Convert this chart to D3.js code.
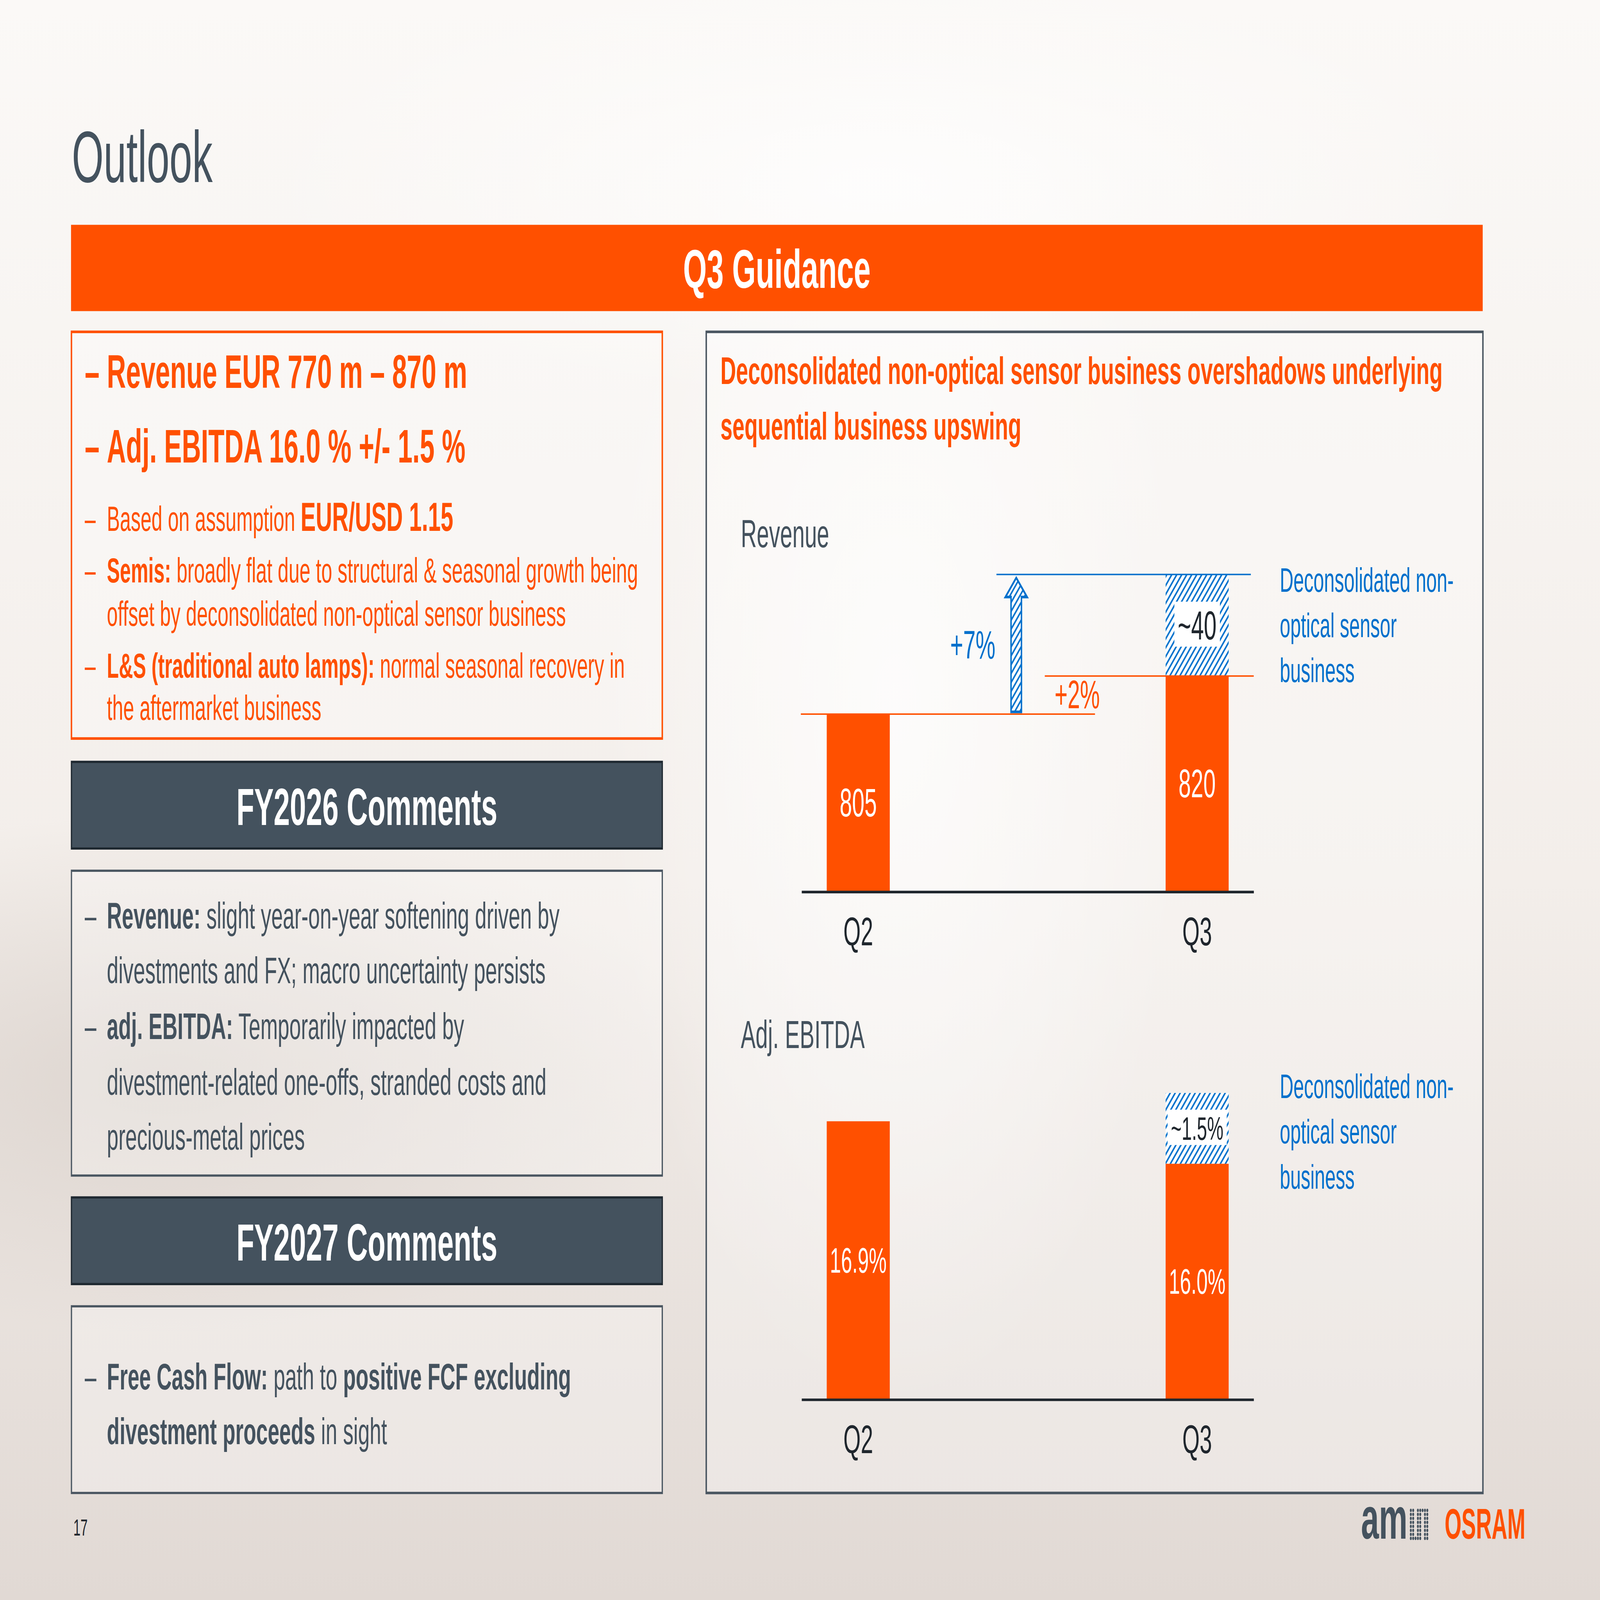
<!DOCTYPE html>
<html>
<head>
<meta charset="utf-8">
<script src="https://cdn.jsdelivr.net/npm/d3@7"></script>
<style>
  html, body { margin: 0; padding: 0; overflow: hidden; background: #f3eeea; }
  svg { display: block; width: 100vw; height: 100vh; font-family: "Liberation Sans", Arial, Helvetica, sans-serif; }
</style>
</head>
<body>
<script>

// chart values
const quarters = ['Q2', 'Q3'];
const revenue = [805, 820];
const revenueDecon = [0, 40];          // deconsolidated non-optical sensor business (hatched)
const revenueLabels = ['805', '820'];
const revenueDeconLabels = ['', '~40'];
const ebitda = [16.9, 16.0];
const ebitdaDecon = [0, 1.5];
const ebitdaLabels = ['16.9%', '16.0%'];
const ebitdaDeconLabels = ['', '~1.5%'];
const growthUnderlying = '+7%';
const growthReported = '+2%';

const ORANGE = '#ff5000', SLATE = '#44525e', BLUE = '#0070cc', INK = '#1f262d';

const W = 7680, H = 4320;

// the slide is drawn in 7680x4320 units and stretched to fill the window
const svg = d3.select('body').append('svg')
    .attr('viewBox', [0, 0, W, H])
    .attr('preserveAspectRatio', 'none');

const defs = svg.append('defs');

// background wash
const bg = defs.append('linearGradient').attr('id', 'bg').attr('x1', 0).attr('y1', 0).attr('x2', 0).attr('y2', 1);
bg.append('stop').attr('offset', 0).attr('stop-color', '#fbf9f7');
bg.append('stop').attr('offset', 0.55).attr('stop-color', '#f3eeea');
bg.append('stop').attr('offset', 1).attr('stop-color', '#e1d9d4');

const glow = defs.append('radialGradient').attr('id', 'glow').attr('cx', 0.5).attr('cy', 0.5).attr('r', 0.5);
glow.append('stop').attr('offset', 0).attr('stop-color', '#ffffff').attr('stop-opacity', 0.7);
glow.append('stop').attr('offset', 1).attr('stop-color', '#ffffff').attr('stop-opacity', 0);

const shade = defs.append('radialGradient').attr('id', 'shade').attr('cx', 0.5).attr('cy', 0.5).attr('r', 0.5);
shade.append('stop').attr('offset', 0).attr('stop-color', '#bfb3ab').attr('stop-opacity', 0.35);
shade.append('stop').attr('offset', 1).attr('stop-color', '#bfb3ab').attr('stop-opacity', 0);

// blue diagonal hatch
const hatch = defs.append('pattern').attr('id', 'hatch')
    .attr('patternUnits', 'userSpaceOnUse')
    .attr('width', 24).attr('height', 24);
hatch.append('rect').attr('width', 24).attr('height', 24).attr('fill', '#fff');
hatch.append('path')
    .attr('d', 'M-6,6 L6,-6 M0,24 L24,0 M18,30 L30,18')
    .attr('stroke', BLUE).attr('stroke-width', 6);

svg.append('rect').attr('width', W).attr('height', H).attr('fill', 'url(#bg)');
svg.append('ellipse').attr('cx', 800).attr('cy', 2900).attr('rx', 2600).attr('ry', 700).attr('fill', 'url(#shade)');
svg.append('ellipse').attr('cx', 4300).attr('cy', 1900).attr('rx', 1400).attr('ry', 1900).attr('fill', 'url(#glow)');
svg.append('ellipse').attr('cx', 4200).attr('cy', 500).attr('rx', 3000).attr('ry', 600).attr('fill', 'url(#glow)');

// helper: line of mixed regular / bold runs
function rich(parent, x, y, segs, size, color) {
    const t = parent.append('text')
        .attr('x', x).attr('y', y)
        .attr('font-size', size)
        .attr('fill', color)
        .style('white-space', 'pre');
    segs.forEach(s => {
        t.append('tspan')
            .attr('font-weight', s[1] ? 'bold' : 'normal')
            .attr('font-size', s[2] || size)
            .text(s[0]);
    });
    return t;
}

// title and page frame
svg.append('text').attr('x', 345).attr('y', 492)
    .attr('font-size', 196).attr('fill', SLATE).text('Outlook');

svg.append('rect').attr('x', 341).attr('y', 607).attr('width', 6776).attr('height', 233).attr('fill', ORANGE);
svg.append('text').attr('x', 3729).attr('y', 777).attr('text-anchor', 'middle')
    .attr('font-size', 146).attr('font-weight', 'bold').attr('fill', '#fff').text('Q3 Guidance');

// left column boxes
const BX = 343, BW = 2836;
const boxFill = 'rgba(255,255,255,0.3)';

svg.append('rect').attr('x', BX).attr('y', 896).attr('width', BW).attr('height', 1098)
    .attr('fill', boxFill).attr('stroke', ORANGE).attr('stroke-width', 7);

[[2057, 'FY2026 Comments'], [3233, 'FY2027 Comments']].forEach(([y, label]) => {
    svg.append('rect').attr('x', BX).attr('y', y).attr('width', BW).attr('height', 234)
        .attr('fill', SLATE).attr('stroke', '#1e2830').attr('stroke-width', 6);
    svg.append('text').attr('x', BX + BW / 2).attr('y', y + 170).attr('text-anchor', 'middle')
        .attr('font-size', 140).attr('font-weight', 'bold').attr('fill', '#fff').text(label);
});

svg.append('rect').attr('x', BX).attr('y', 2351).attr('width', BW).attr('height', 823)
    .attr('fill', boxFill).attr('stroke', '#4a5661').attr('stroke-width', 6);
svg.append('rect').attr('x', BX).attr('y', 3527).attr('width', BW).attr('height', 504)
    .attr('fill', boxFill).attr('stroke', '#4a5661').attr('stroke-width', 6);

// Q3 guidance text
const DASH_X = 407, TEXT_X = 513;
const guidanceBig = [
    [1047, [['Revenue EUR 770 m – 870 m', 1]]],
    [1249, [['Adj. EBITDA 16.0 % +/- 1.5 %', 1]]]
];
const guidanceSmall = [
    [1433, true, [['Based on assumption ', 0], ['EUR/USD 1.15', 1, 109]]],
    [1573, true, [['Semis:', 1], [' broadly flat due to structural & seasonal growth being', 0]]],
    [1690, false, [['offset by deconsolidated non-optical sensor business', 0]]],
    [1830, true, [['L&S (traditional auto lamps):', 1], [' normal seasonal recovery in', 0]]],
    [1944, false, [['the aftermarket business', 0]]]
];
guidanceBig.forEach(([y, segs]) => {
    svg.append('text').attr('x', DASH_X).attr('y', y).attr('font-size', 127)
        .attr('font-weight', 'bold').attr('fill', ORANGE).text('–');
    rich(svg, TEXT_X, y, segs, 127, ORANGE);
});
guidanceSmall.forEach(([y, dash, segs]) => {
    if (dash) svg.append('text').attr('x', DASH_X).attr('y', y).attr('font-size', 94)
        .attr('fill', ORANGE).text('–');
    rich(svg, TEXT_X, y, segs, 94, ORANGE);
});

// FY comments text
const fy26 = [
    [2507, true, [['Revenue:', 1], [' slight year-on-year softening driven by', 0]]],
    [2655, false, [['divestments and FX; macro uncertainty persists', 0]]],
    [2806, true, [['adj. EBITDA:', 1], [' Temporarily impacted by', 0]]],
    [2956, false, [['divestment-related one-offs, stranded costs and', 0]]],
    [3104, false, [['precious-metal prices', 0]]]
];
const fy27 = [
    [3752, true, [['Free Cash Flow:', 1], [' path to ', 0], ['positive FCF excluding', 1]]],
    [3899, false, [['divestment proceeds', 1], [' in sight', 0]]]
];
fy26.concat(fy27).forEach(([y, dash, segs]) => {
    if (dash) svg.append('text').attr('x', DASH_X).attr('y', y).attr('font-size', 100)
        .attr('fill', SLATE).text('–');
    rich(svg, TEXT_X, y, segs, 100, SLATE);
});

// right panel
svg.append('rect').attr('x', 3390).attr('y', 896).attr('width', 3728).attr('height', 3135)
    .attr('fill', boxFill).attr('stroke', '#4a5661').attr('stroke-width', 7);

svg.append('text').attr('x', 3458).attr('y', 1037).attr('font-size', 104).attr('font-weight', 'bold')
    .attr('fill', ORANGE).text('Deconsolidated non-optical sensor business overshadows underlying');
svg.append('text').attr('x', 3458).attr('y', 1187).attr('font-size', 104).attr('font-weight', 'bold')
    .attr('fill', ORANGE).text('sequential business upswing');

svg.append('text').attr('x', 3556).attr('y', 1478).attr('font-size', 106).attr('fill', SLATE).text('Revenue');
svg.append('text').attr('x', 3556).attr('y', 2830).attr('font-size', 106).attr('fill', SLATE).text('Adj. EBITDA');

const noteLines = ['Deconsolidated non-', 'optical sensor', 'business'];
[1598, 2965].forEach(y0 => {
    noteLines.forEach((l, i) => {
        svg.append('text').attr('x', 6143).attr('y', y0 + i * 122)
            .attr('font-size', 91).attr('fill', BLUE).text(l);
    });
});

// scales
const x = d3.scaleBand().domain(quarters).range([3848, 6018])
    .paddingInner(0.814).paddingOuter(0.074);
const bw = x.bandwidth();

const REV_BASE = 2408, EB_BASE = 3779;
const yRev = d3.scaleLinear().domain([735, 860]).range([REV_BASE, 1551]);
const yEb = d3.scaleLinear().domain([11, 17.5]).range([EB_BASE, 2951]);

function drawPanel(g, y, values, decon, labels, deconLabels, labelSize, deconSize, base) {
    const rows = quarters.map((q, i) => ({ q, v: values[i], d: decon[i], label: labels[i], dl: deconLabels[i] }));

    g.selectAll('rect.bar').data(rows).join('rect')
        .attr('class', 'bar')
        .attr('x', d => x(d.q)).attr('width', bw)
        .attr('y', d => y(d.v)).attr('height', d => y.range()[0] - y(d.v))
        .attr('fill', ORANGE);

    g.selectAll('text.val').data(rows).join('text')
        .attr('class', 'val')
        .attr('x', d => x(d.q) + bw / 2)
        .attr('y', d => (y(d.v) + y.range()[0]) / 2 + labelSize * 0.34)
        .attr('text-anchor', 'middle').attr('font-size', labelSize).attr('fill', '#fff')
        .text(d => d.label);

    const dec = rows.filter(d => d.d > 0);
    g.selectAll('rect.decon').data(dec).join('rect')
        .attr('class', 'decon')
        .attr('x', d => x(d.q)).attr('width', bw)
        .attr('y', d => y(d.v + d.d)).attr('height', d => y(d.v) - y(d.v + d.d))
        .attr('fill', 'url(#hatch)');

    dec.forEach(d => {
        const cy = (y(d.v) + y(d.v + d.d)) / 2;
        const t = g.append('text')
            .attr('x', x(d.q) + bw / 2).attr('y', cy + deconSize * 0.35)
            .attr('text-anchor', 'middle').attr('font-size', deconSize).attr('fill', INK)
            .text(d.dl);
        const bb = t.node().getBBox();
        g.insert('rect', () => t.node())
            .attr('x', bb.x - 16).attr('y', bb.y - 2)
            .attr('width', bb.width + 32).attr('height', bb.height - 2)
            .attr('fill', '#fff');
    });

    const axis = g.append('g')
        .attr('transform', `translate(0,${base})`)
        .call(d3.axisBottom(x).tickSize(0).tickSizeOuter(0).tickPadding(68));
    axis.select('.domain').attr('stroke', INK).attr('stroke-width', 7);
    axis.selectAll('text').attr('font-size', 107).attr('fill', INK)
        .attr('font-family', '"Liberation Sans", Arial, sans-serif');
}

const rev = svg.append('g');
drawPanel(rev, yRev, revenue, revenueDecon, revenueLabels, revenueDeconLabels, 107, 110, REV_BASE);

const eb = svg.append('g');
drawPanel(eb, yEb, ebitda, ebitdaDecon, ebitdaLabels, ebitdaDeconLabels, 96, 88, EB_BASE);

// revenue bridge annotations
const yQ2 = yRev(revenue[0]);
const yQ3 = yRev(revenue[1]);
const yTop = yRev(revenue[1] + revenueDecon[1]);

const refLines = [
    { x1: x.range()[0] - 4, x2: 5256, y: yQ2, c: ORANGE },
    { x1: 5015, x2: x.range()[1], y: yQ3, c: ORANGE },
    { x1: 4783, x2: 6004, y: yTop, c: BLUE }
];
rev.selectAll('line.ref').data(refLines).join('line')
    .attr('class', 'ref')
    .attr('x1', d => d.x1).attr('x2', d => d.x2)
    .attr('y1', d => d.y).attr('y2', d => d.y)
    .attr('stroke', d => d.c).attr('stroke-width', 4);

// hollow hatched arrow from Q2 level to underlying Q3 level
const ax = 4878, aBot = yQ2 - 6, aTip = yTop + 9;
const sh = 25, hh = 52, hl = 52;
rev.append('path')
    .attr('d', d3.line()([
        [ax - sh, aBot], [ax - sh, aTip + hl], [ax - hh, aTip + hl], [ax, aTip],
        [ax + hh, aTip + hl], [ax + sh, aTip + hl], [ax + sh, aBot]
    ]) + 'Z')
    .attr('fill', 'url(#hatch)').attr('stroke', BLUE).attr('stroke-width', 7)
    .attr('stroke-linejoin', 'miter');

rev.append('text').attr('x', 4778).attr('y', (aBot + aTip) / 2 + 37)
    .attr('text-anchor', 'end').attr('font-size', 107).attr('fill', BLUE).text(growthUnderlying);
rev.append('text').attr('x', 5062).attr('y', yQ2 - 16)
    .attr('font-size', 107).attr('fill', ORANGE).text(growthReported);

// footer
svg.append('text').attr('x', 352).attr('y', 4146).attr('font-size', 62).attr('fill', INK).text('17');

const logo = svg.append('g');
logo.append('text').attr('x', 6533).attr('y', 4154).attr('font-size', 158).attr('font-weight', 'bold')
    .attr('fill', SLATE).attr('textLength', 223).attr('lengthAdjust', 'spacingAndGlyphs').text('am');
// dotted glyph of the logo: left stroke, bottom bar, middle stroke, top bar, right stroke
const dots = [];
for (let c = 0; c < 8; c++) {
    for (let r = 0; r < 8; r++) {
        const stem = c < 2 || c === 3 || c === 4 || c >= 6;
        const bottom = r === 7 && c <= 4;
        const top = r === 0 && c >= 3;
        if (stem || bottom || top) dots.push([c, r]);
    }
}
logo.selectAll('circle').data(dots).join('circle')
    .attr('cx', d => 6772 + d[0] * 11.3)
    .attr('cy', d => 4078 + d[1] * 10.8)
    .attr('r', 4.6).attr('fill', SLATE);
logo.append('text').attr('x', 6934).attr('y', 4154).attr('font-size', 115).attr('font-weight', 'bold')
    .attr('fill', ORANGE).attr('textLength', 388).attr('lengthAdjust', 'spacingAndGlyphs').text('OSRAM');

</script>
</body>
</html>
